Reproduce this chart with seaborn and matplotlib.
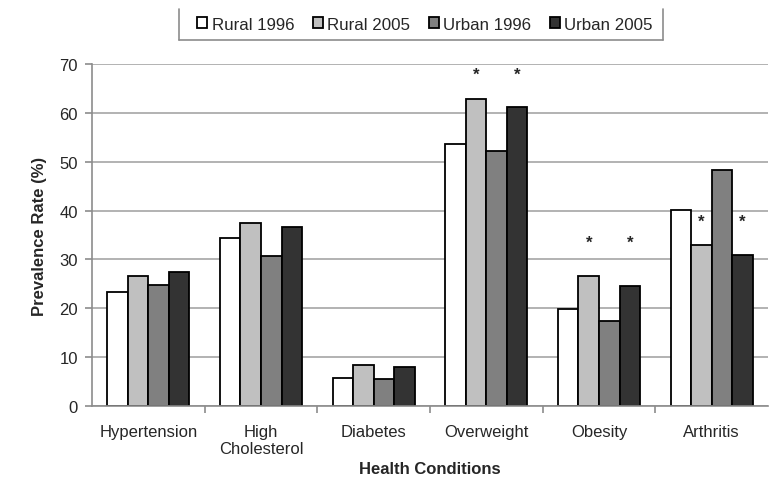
"""
Prévalence des problèmes de santé, milieu rural et urbain, 1996 et 2005.
"""

import numpy as np
import pandas as pd
import matplotlib

matplotlib.use("Agg")
import matplotlib.pyplot as plt
from matplotlib.lines import Line2D
from matplotlib.patches import Patch
import seaborn as sns

# Données
conditions = ["Hypertension", "High\nCholesterol", "Diabetes", "Overweight", "Obesity", "Arthritis"]
groupes = ["Rural 1996", "Rural 2005", "Urban 1996", "Urban 2005"]
rural_1996 = [23.3, 34.3, 5.7, 53.7, 19.9, 40.2]
rural_2005 = [26.7, 37.5, 8.4, 62.8, 26.6, 33.0]
urban_1996 = [24.8, 30.6, 5.6, 52.2, 17.5, 48.3]
urban_2005 = [27.4, 36.7, 8.0, 61.3, 24.5, 31.0]

# Différences significatives (*) : niveau de l'astérisque par condition
significatif = [False, False, False, True, True, True]
niveau_asterisque = [None, None, None, 67.9, 33.5, 37.8]

couleurs = ["#ffffff", "#c0c0c0", "#808080", "#333333"]

df = pd.DataFrame({
    "condition": np.repeat(conditions, len(groupes)),
    "groupe": groupes * len(conditions),
    "taux": np.column_stack([rural_1996, rural_2005, urban_1996, urban_2005]).ravel(),
})

sns.set_style("white")
plt.rcParams["font.family"] = ["Liberation Sans", "DejaVu Sans"]

fig = plt.figure(figsize=(7.7, 4.85), dpi=100)
ax = fig.add_axes([92 / 770, 1 - 407 / 485, 676 / 770, 342 / 485])

sns.barplot(
    data=df, x="condition", y="taux", hue="groupe",
    order=conditions, hue_order=groupes, palette=couleurs,
    saturation=1, width=0.73, gap=0, edgecolor="black", linewidth=1.3,
    errorbar=None, legend=False, ax=ax,
)

# Astérisques au-dessus des barres 2005
for i, sig in enumerate(significatif):
    if not sig:
        continue
    for h in (1, 3):
        barre = ax.containers[h][i]
        xc = barre.get_x() + barre.get_width() / 2
        ax.text(xc, niveau_asterisque[i], "*", ha="center", va="center",
                fontsize=12, fontweight="bold")

ax.set_xlim(-0.5, len(conditions) - 0.5)
ax.set_ylim(0, 70)
ax.set_yticks(range(0, 71, 10))
ax.yaxis.grid(True, color="#a6a6a6", linewidth=1.2)
ax.set_axisbelow(True)

for cote in ("top", "right"):
    ax.spines[cote].set_visible(False)
for cote in ("left", "bottom"):
    ax.spines[cote].set_color("#8c8c8c")
    ax.spines[cote].set_linewidth(1.2)

ax.set_xticks(np.arange(0.5, len(conditions) - 0.5, 1), minor=True)
ax.tick_params(axis="x", which="major", length=0, pad=13, labelsize=12)
ax.tick_params(axis="x", which="minor", length=5, width=1.2, color="#8c8c8c", direction="out")
ax.tick_params(axis="y", length=5, width=1.2, color="#8c8c8c", direction="out", pad=5, labelsize=12)
ax.tick_params(bottom=True, left=True, which="both")
ax.tick_params(axis="x", which="major", bottom=False)

ax.set_xlabel("Health Conditions", fontsize=12, fontweight="bold", labelpad=3)
ax.set_ylabel("Prevalence Rate (%)", fontsize=12, fontweight="bold", labelpad=9)

# Légende en haut, cadre ouvert en haut comme l'original
poignees = [Patch(facecolor=c, edgecolor="black", linewidth=1.3) for c in couleurs]
fig.legend(
    poignees, groupes, loc="center", bbox_to_anchor=(425 / 770, 1 - 25 / 485),
    ncol=4, frameon=False, fontsize=12.2, handlelength=0.6, handleheight=0.6,
    handletextpad=0.25, columnspacing=1.1,
)
x0, x1 = 179 / 770, 663 / 770
y0, y1 = 1 - 41 / 485, 1 - 10 / 485
for xs, ys in (([x0, x0], [y1, y0]), ([x0, x1], [y0, y0]), ([x1, x1], [y0, y1])):
    fig.add_artist(Line2D(xs, ys, transform=fig.transFigure, color="#8c8c8c", linewidth=1.2))

fig.savefig("out.png", dpi=100)
